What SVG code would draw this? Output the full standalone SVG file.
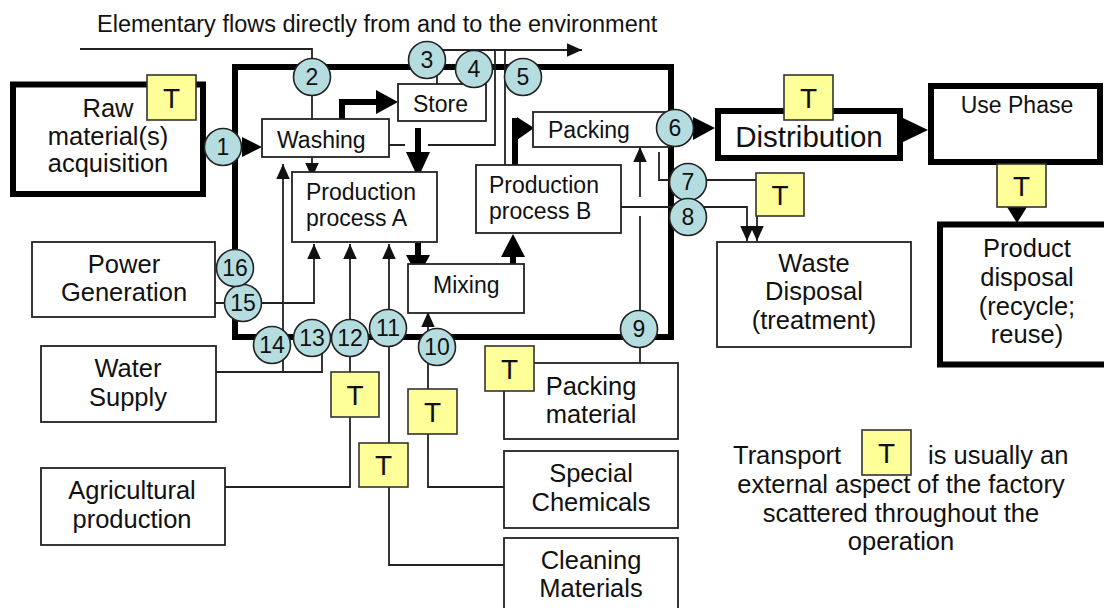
<svg xmlns="http://www.w3.org/2000/svg" width="1104" height="608" viewBox="0 0 1104 608">
<defs>
<marker id="ah" viewBox="0 0 10 10" refX="10" refY="5" markerWidth="15" markerHeight="15" markerUnits="userSpaceOnUse" orient="auto"><path d="M0,0.5 L10,5 L0,9.5 z" fill="#111"/></marker>
<style>
text{font-family:"Liberation Sans",Arial,sans-serif;fill:#111}
.thin{fill:#fff;stroke:#222;stroke-width:1.8}
.thick{fill:#fff;stroke:#000;stroke-width:6}
.ln{fill:none;stroke:#222;stroke-width:1.8}
.tk{fill:none;stroke:#000;stroke-width:6}
.hd{fill:#000;stroke:none}
.c{fill:#b5dde0;stroke:#222;stroke-width:1.6}
.n{font-size:23px;text-anchor:middle}
.t{fill:#ffff99;stroke:#333;stroke-width:1.6}
.tt{font-size:28px;text-anchor:middle}
.p{font-size:23px}
.o{font-size:25.5px;text-anchor:middle}
</style>
</defs>
<rect width="1104" height="608" fill="#fff"/>
<text x="97" y="32" style="font-size:23.5px">Elementary flows directly from and to the environment</text>

<g id="factory"><rect x="235" y="67" width="436" height="270" fill="none" stroke="#000" stroke-width="6"/></g>

<g id="connectors">
<path class="ln" d="M80,49 H312 V119"/>
<path class="ln" d="M437,84 V50 H582" marker-end="url(#ah)"/>
<path class="ln" d="M389,145 H405 M428,145 H495 V50"/>
<path class="ln" d="M505,165 V50"/>
<path class="ln" d="M312,157 V178" marker-end="url(#ah)"/>
<path class="ln" d="M215,303 H314 V244" marker-end="url(#ah)"/>
<path class="ln" d="M216,372 H322 V350"/>
<path class="ln" d="M283,372 V164" marker-end="url(#ah)"/>
<path class="ln" d="M225,487 H350 V244" marker-end="url(#ah)"/>
<path class="ln" d="M504,565 H389 V244" marker-end="url(#ah)"/>
<path class="ln" d="M504,487 H428 V312" marker-end="url(#ah)"/>
<path class="ln" d="M640,363 V216 M640,197 V147" marker-end="url(#ah)"/>
<path class="ln" d="M659,152 V180 H756"/>
<path class="ln" d="M757,216 V241" marker-end="url(#ah)"/>
<path class="ln" d="M621,207 H747 V241" marker-end="url(#ah)"/>
<path class="tk" d="M342,120 V102 H378"/>
<polygon class="hd" points="376,90 398,102 376,114"/>
<path class="tk" d="M418,128 V153"/>
<polygon class="hd" points="406,152 430,152 418,178"/>
<path class="tk" d="M418,243 V257"/>
<polygon class="hd" points="406,255 430,255 418,277"/>
<path class="tk" d="M513,279 V255"/>
<polygon class="hd" points="501,257 525,257 513,234"/>
<path class="tk" d="M515,166 V118"/>
<polygon class="hd" points="517,117 534,128 517,140"/>
<polygon class="hd" points="242,137 262,147 242,157"/>
<polygon class="hd" points="693,117 715,128 693,140"/>
<polygon class="hd" points="903,118 928,130 903,142"/>
<polygon class="hd" points="1007,207 1027,207 1017,223"/>
</g>

<g id="raw"><rect class="thick" x="13" y="84.5" width="190" height="109.5"/>
<text class="o" x="108" y="117">Raw</text><text class="o" x="108" y="145">material(s)</text><text class="o" x="108" y="172">acquisition</text></g>
<g id="washing"><rect class="thin" x="262" y="119" width="127" height="38"/><text class="p" x="277" y="148">Washing</text></g>
<g id="store"><rect class="thin" x="398" y="84" width="88" height="37"/><text class="p" x="413" y="112">Store</text></g>
<g id="prodA"><rect class="thin" x="292" y="172" width="145" height="70"/><text class="p" x="306" y="200">Production</text><text class="p" x="306" y="226">process A</text></g>
<g id="mixing"><rect class="thin" x="408" y="264" width="116" height="49"/><text class="p" x="433" y="293">Mixing</text></g>
<g id="prodB"><rect class="thin" x="476" y="165" width="145" height="68"/><text class="p" x="489" y="193">Production</text><text class="p" x="489" y="219">process B</text></g>
<g id="packing"><rect class="thin" x="533" y="112" width="137" height="35"/><text class="p" x="548" y="138">Packing</text></g>
<g id="distribution"><rect class="thick" x="718" y="111" width="182" height="47"/><text x="809" y="147" style="font-size:29.5px;text-anchor:middle">Distribution</text></g>
<g id="usephase"><rect class="thick" x="931" y="86" width="169" height="76"/><text x="1017" y="113" style="font-size:23px;text-anchor:middle">Use Phase</text></g>
<g id="disposal"><rect class="thick" x="940" y="224.5" width="180" height="140"/>
<text class="o" x="1027" y="257">Product</text><text class="o" x="1027" y="286">disposal</text><text class="o" x="1027" y="315">(recycle;</text><text class="o" x="1027" y="343">reuse)</text></g>
<g id="waste"><rect class="thin" x="717" y="242" width="194" height="105"/>
<text class="o" x="814" y="272">Waste</text><text class="o" x="814" y="300">Disposal</text><text class="o" x="814" y="329">(treatment)</text></g>
<g id="power"><rect class="thin" x="32" y="242" width="183" height="75"/><text class="o" x="124" y="273">Power</text><text class="o" x="124" y="301">Generation</text></g>
<g id="water"><rect class="thin" x="41" y="346" width="175" height="76"/><text class="o" x="128" y="377">Water</text><text class="o" x="128" y="406">Supply</text></g>
<g id="agri"><rect class="thin" x="41" y="468" width="184" height="77"/><text class="o" x="132" y="499">Agricultural</text><text class="o" x="132" y="528">production</text></g>
<g id="packmat"><rect class="thin" x="504" y="363" width="174" height="76"/><text class="o" x="591" y="395">Packing</text><text class="o" x="591" y="423">material</text></g>
<g id="chem"><rect class="thin" x="504" y="451" width="174" height="77"/><text class="o" x="591" y="482">Special</text><text class="o" x="591" y="511">Chemicals</text></g>
<g id="clean"><rect class="thin" x="504" y="538" width="174" height="80"/><text class="o" x="591" y="569">Cleaning</text><text class="o" x="591" y="597">Materials</text></g>

<g id="transport-boxes">
<rect class="t" x="147" y="75" width="49" height="45"/><text class="tt" x="171.5" y="107.5">T</text>
<rect class="t" x="784" y="75" width="49" height="45"/><text class="tt" x="808.5" y="107.5">T</text>
<rect class="t" x="756" y="173" width="48" height="43"/><text class="tt" x="780" y="204.5">T</text>
<rect class="t" x="997" y="164" width="49" height="43"/><text class="tt" x="1021.5" y="195.5">T</text>
<rect class="t" x="331" y="372" width="48" height="45"/><text class="tt" x="355" y="404.5">T</text>
<rect class="t" x="359" y="443" width="49" height="44"/><text class="tt" x="383.5" y="475">T</text>
<rect class="t" x="408" y="389" width="49" height="45"/><text class="tt" x="432.5" y="421.5">T</text>
<rect class="t" x="485" y="346" width="49" height="45"/><text class="tt" x="509.5" y="378.5">T</text>
</g>

<g id="flow-numbers">
<circle class="c" cx="223" cy="147" r="18.5"/><text class="n" x="223" y="155">1</text>
<circle class="c" cx="312" cy="77" r="18.5"/><text class="n" x="312" y="85">2</text>
<circle class="c" cx="427" cy="60" r="18.5"/><text class="n" x="427" y="68">3</text>
<circle class="c" cx="474" cy="69" r="18.5"/><text class="n" x="474" y="77">4</text>
<circle class="c" cx="523" cy="77" r="18.5"/><text class="n" x="523" y="85">5</text>
<circle class="c" cx="675" cy="128" r="18.5"/><text class="n" x="675" y="136">6</text>
<circle class="c" cx="688" cy="182" r="18.5"/><text class="n" x="688" y="190">7</text>
<circle class="c" cx="688" cy="217" r="18.5"/><text class="n" x="688" y="225">8</text>
<circle class="c" cx="639" cy="329" r="18.5"/><text class="n" x="639" y="337">9</text>
<circle class="c" cx="437" cy="347" r="18.5"/><text class="n" x="437" y="355">10</text>
<circle class="c" cx="388" cy="328" r="18.5"/><text class="n" x="388" y="336">11</text>
<circle class="c" cx="350" cy="338" r="18.5"/><text class="n" x="350" y="346">12</text>
<circle class="c" cx="312" cy="338" r="18.5"/><text class="n" x="312" y="346">13</text>
<circle class="c" cx="272" cy="345" r="18.5"/><text class="n" x="272" y="353">14</text>
<circle class="c" cx="243" cy="303" r="18.5"/><text class="n" x="243" y="311">15</text>
<circle class="c" cx="235" cy="268" r="18.5"/><text class="n" x="235" y="276">16</text>
</g>

<g id="legend">
<text x="733" y="464" style="font-size:25.5px">Transport</text>
<rect class="t" x="862" y="430" width="49" height="45"/><text class="tt" x="886.5" y="462.5">T</text>
<text x="928" y="464" style="font-size:25.5px">is usually an</text>
<text class="o" x="901" y="493">external aspect of the factory</text>
<text class="o" x="901" y="522">scattered throughout the</text>
<text class="o" x="901" y="550">operation</text>
</g>
</svg>
